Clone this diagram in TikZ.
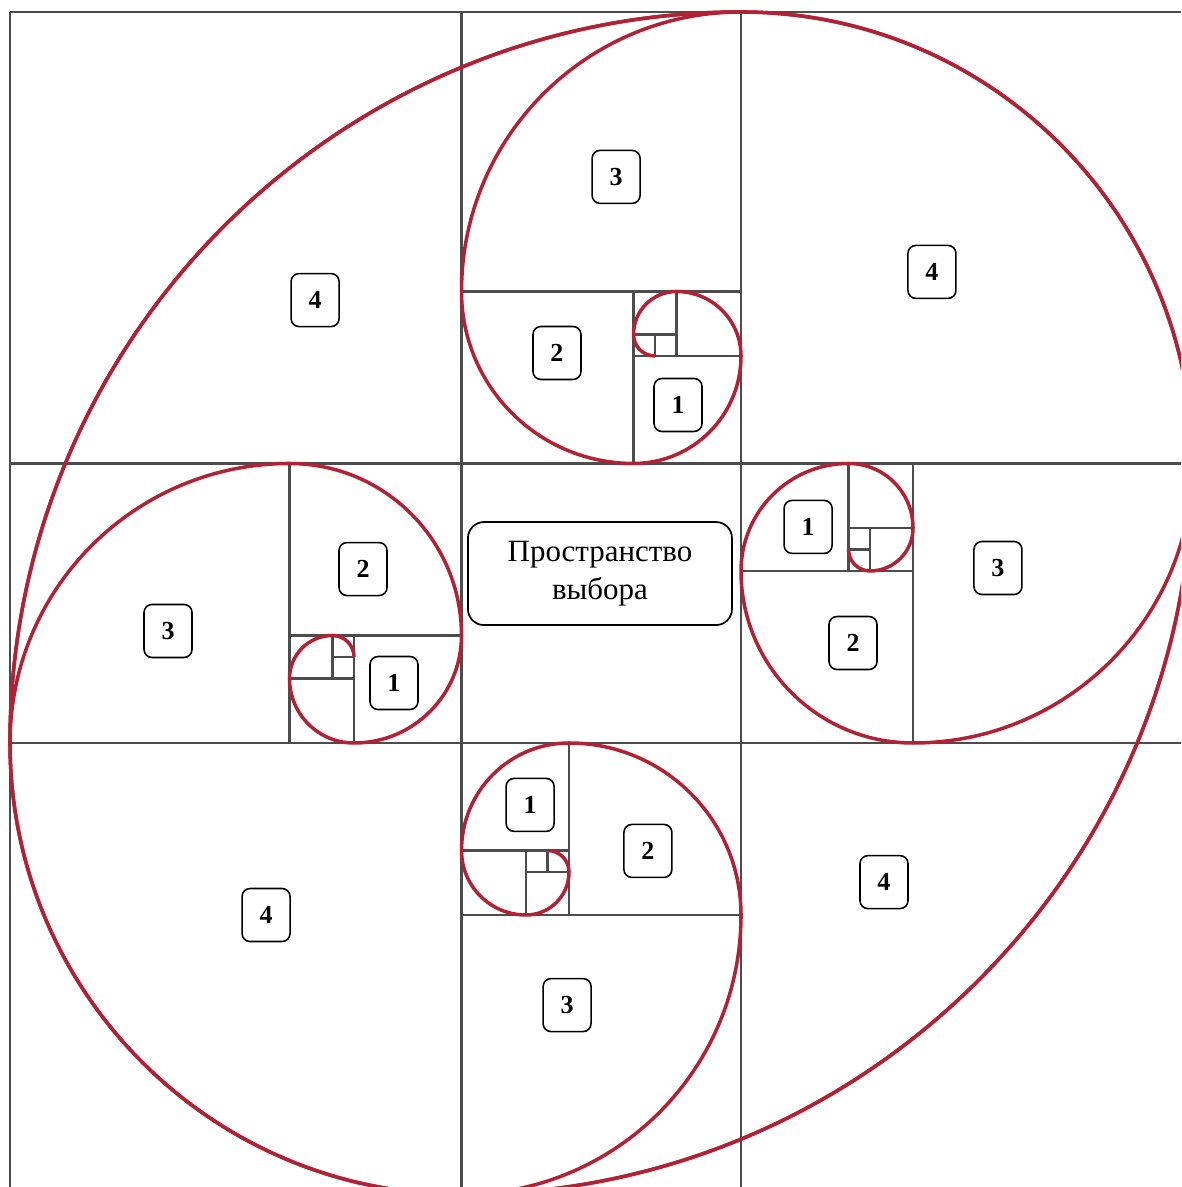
\documentclass[tikz,border=0pt]{standalone}
\usepackage{fontspec}
\setmainfont{Liberation Serif}
\usepackage{tikz}
\usetikzlibrary{positioning}
\definecolor{spiralred}{RGB}{178,34,52}
\tikzset{
  cell/.style={draw=black!70, line width=0.6pt},
  spiral/.style={draw=spiralred, line width=1pt},
  tag/.style={rectangle, draw, rounded corners=0.08cm, fill=white, line width=0.45pt,
    minimum width=0.48cm, minimum height=0.53cm, inner sep=0pt,
    font=\fontsize{7.4}{8}\selectfont\bfseries},
  hub/.style={rectangle, draw, rounded corners=0.16cm, fill=white, line width=0.5pt,
    minimum width=2.64cm, minimum height=1.03cm, align=center,
    font=\fontsize{8.8}{10.6}\selectfont},
}

\begin{document}
\begin{tikzpicture}[x=0.215cm, y=0.215cm]
  \useasboundingbox (-21.465,-20.651) rectangle (33.465,34.558);
  \clip (-21.465,-20.651) rectangle (33.465,34.558);

  % Main grid
  \draw[cell] (-21,-21) -- (-21,34) (0,-21) -- (0,34) (13,-21) -- (13,34);
  \draw[cell] (-21,34) -- (34,34) (-21,13) -- (34,13) (-21,0) -- (34,0);

  % Top squares
  \draw[cell] (0,21) -- (13,21) (8,13) -- (8,21) (8,18) -- (13,18)
    (10,18) -- (10,21) (8,19) -- (10,19) (9,18) -- (9,19);
  % Left squares
  \draw[cell] (-8,0) -- (-8,13) (-8,5) -- (0,5) (-5,0) -- (-5,5)
    (-8,3) -- (-5,3) (-6,3) -- (-6,5) (-6,4) -- (-5,4);
  % Right squares
  \draw[cell] (21,0) -- (21,13) (13,8) -- (21,8) (18,8) -- (18,13)
    (18,10) -- (21,10) (19,8) -- (19,10) (18,9) -- (19,9);
  % Bottom squares
  \draw[cell] (0,-8) -- (13,-8) (5,-8) -- (5,0) (0,-5) -- (5,-5)
    (3,-8) -- (3,-5) (3,-6) -- (5,-6) (4,-6) -- (4,-5);

  % Spirals
  \draw[spiral] (9,18) arc[start angle=270, end angle=180, radius=1]
    arc[start angle=180, end angle=90, radius=2]
    arc[start angle=90, end angle=0, radius=3]
    arc[start angle=0, end angle=-90, radius=5]
    arc[start angle=-90, end angle=-180, radius=8]
    arc[start angle=180, end angle=90, radius=13]
    arc[start angle=90, end angle=0, radius=21]
    arc[start angle=0, end angle=-90, radius=34];
  \draw[spiral] (-5,4) arc[start angle=0, end angle=90, radius=1]
    arc[start angle=90, end angle=180, radius=2]
    arc[start angle=180, end angle=270, radius=3]
    arc[start angle=270, end angle=360, radius=5]
    arc[start angle=0, end angle=90, radius=8]
    arc[start angle=90, end angle=180, radius=13]
    arc[start angle=180, end angle=270, radius=21]
    arc[start angle=270, end angle=360, radius=34];
  \draw[spiral] (18,9) arc[start angle=180, end angle=270, radius=1]
    arc[start angle=270, end angle=360, radius=2]
    arc[start angle=0, end angle=90, radius=3]
    arc[start angle=90, end angle=180, radius=5]
    arc[start angle=180, end angle=270, radius=8]
    arc[start angle=270, end angle=360, radius=13]
    arc[start angle=0, end angle=90, radius=21]
    arc[start angle=90, end angle=180, radius=34];
  \draw[spiral] (4,-5) arc[start angle=90, end angle=0, radius=1]
    arc[start angle=0, end angle=-90, radius=2]
    arc[start angle=-90, end angle=-180, radius=3]
    arc[start angle=180, end angle=90, radius=5]
    arc[start angle=90, end angle=0, radius=8]
    arc[start angle=0, end angle=-90, radius=13]
    arc[start angle=-90, end angle=-180, radius=21]
    arc[start angle=180, end angle=90, radius=34];

  % Centre
  \node[hub] (choice) at (6.44,7.88) {Пространство\\выбора};

  % Top labels
  \node[tag] (top3) at (7.19,26.33) {3};
  \node[tag] (top2) at (4.44,18.14) {2};
  \node[tag] (top1) at (10.07,15.72) {1};
  \node[tag] (ne4) at (21.88,21.91) {4};
  \node[tag] (nw4) at (-6.81,20.6) {4};

  % Left labels
  \node[tag] (left2) at (-4.58,8.09) {2};
  \node[tag] (left3) at (-13.65,5.21) {3};
  \node[tag] (left1) at (-3.14,2.79) {1};

  % Right labels
  \node[tag] (right1) at (16.12,10.05) {1};
  \node[tag] (right3) at (24.95,8.14) {3};
  \node[tag] (right2) at (18.21,4.65) {2};

  % Bottom labels
  \node[tag] (bot1) at (3.19,-2.88) {1};
  \node[tag] (bot2) at (8.67,-5.02) {2};
  \node[tag] (bot3) at (4.91,-12.19) {3};
  \node[tag] (sw4) at (-9.09,-8.0) {4};
  \node[tag] (se4) at (19.65,-6.47) {4};
\end{tikzpicture}
\end{document}
